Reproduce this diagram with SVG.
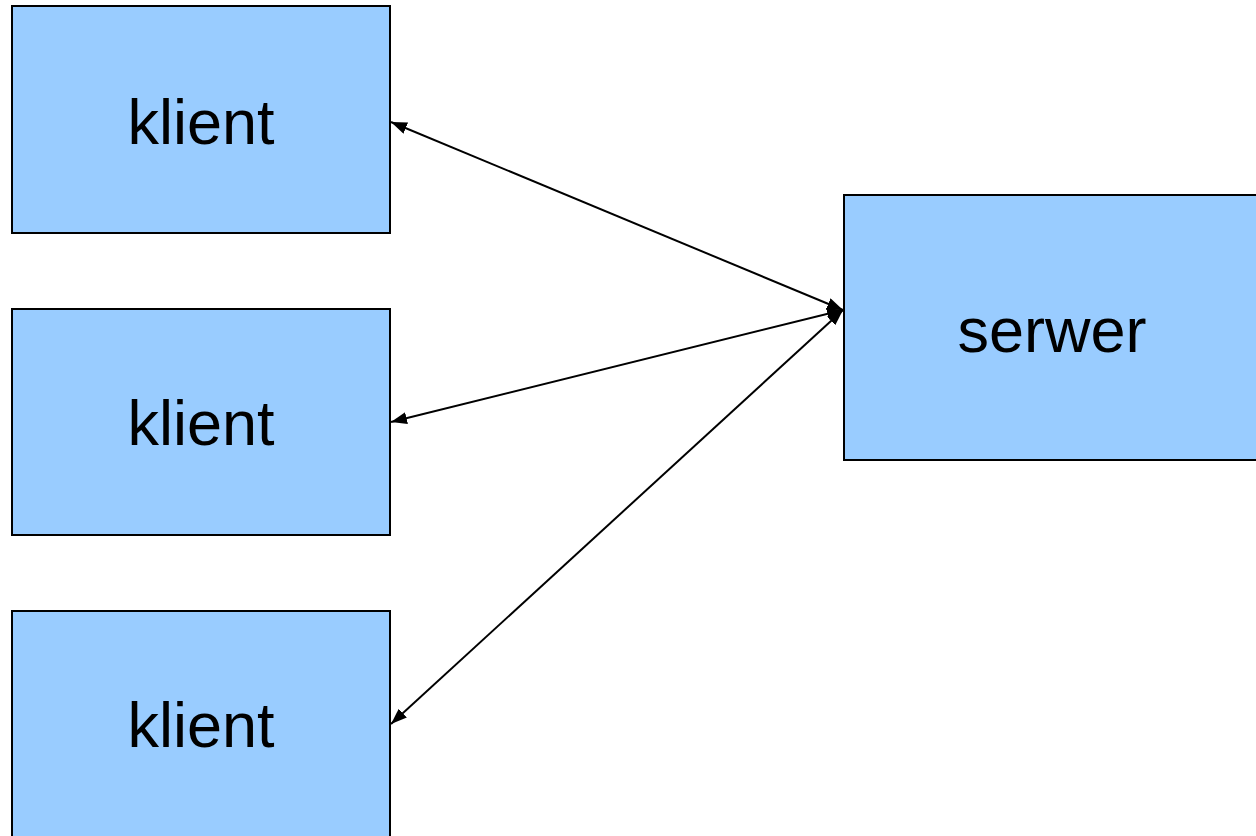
<svg xmlns="http://www.w3.org/2000/svg" width="1256" height="836" viewBox="0 0 1256 836">
<style>
.box{fill:#99CCFF;stroke:#000;stroke-width:2}
.lbl{font-family:"Liberation Sans",Arial,sans-serif;font-size:63px;fill:#000;text-anchor:middle}
.conn{stroke:#000;stroke-width:2;fill:none;marker-start:url(#ah);marker-end:url(#ah)}
</style>
<defs>
<marker id="ah" viewBox="0 0 16 12" refX="16" refY="6" markerWidth="16" markerHeight="12" markerUnits="userSpaceOnUse" orient="auto-start-reverse">
<path d="M0,0 L16,6 L0,12 Z" fill="#000"/>
</marker>
</defs>
<rect width="1256" height="836" fill="#fff"/>
<g id="klient1"><rect class="box" x="12" y="6" width="378" height="227"/><text class="lbl" x="201" y="144">klient</text></g>
<g id="klient2"><rect class="box" x="12" y="309" width="378" height="226"/><text class="lbl" x="201" y="445">klient</text></g>
<g id="klient3"><rect class="box" x="12" y="611" width="378" height="240"/><text class="lbl" x="201" y="747">klient</text></g>
<g id="serwer"><rect class="box" x="844" y="195" width="420" height="265"/><text class="lbl" x="1052" y="352">serwer</text></g>
<g id="connectors">
<line class="conn" x1="391" y1="122" x2="843" y2="310"/>
<line class="conn" x1="391" y1="422" x2="843" y2="310"/>
<line class="conn" x1="391" y1="724" x2="843" y2="310"/>
</g>
</svg>
